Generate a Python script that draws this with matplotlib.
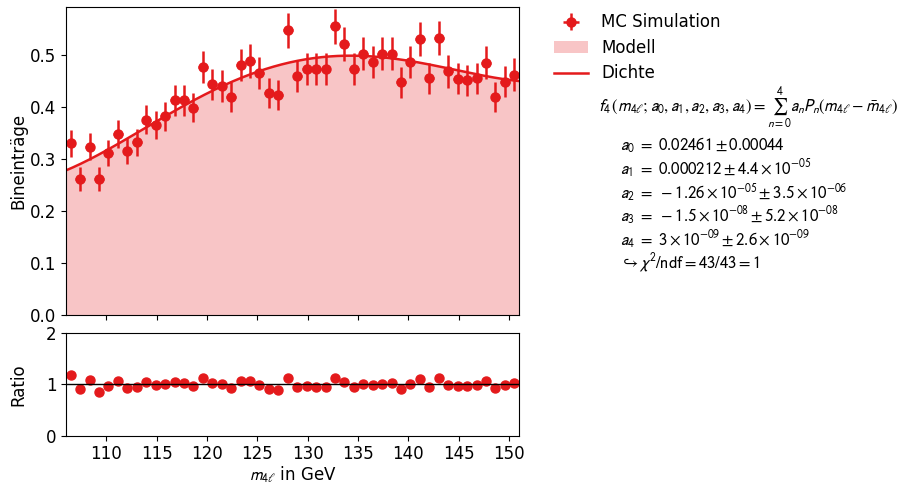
import numpy as np
import matplotlib
matplotlib.use("Agg")
import matplotlib.pyplot as plt
from matplotlib.lines import Line2D
from matplotlib.patches import Patch
from numpy.polynomial import legendre

# ------------------------------------------------------------
# Daten
# ------------------------------------------------------------
m_min, m_max, n_bins = 106.0, 151.0, 48
m_mean = 128.5
norm = 19.8  # Normierung der Dichte auf die Bineinträge

y_mc = [0.331, 0.261, 0.324, 0.262, 0.311, 0.349, 0.315, 0.333,
        0.376, 0.366, 0.383, 0.413, 0.413, 0.399, 0.478, 0.444,
        0.441, 0.420, 0.481, 0.489, 0.466, 0.428, 0.423, 0.548,
        0.460, 0.473, 0.473, 0.474, 0.556, 0.522, 0.474, 0.503,
        0.487, 0.503, 0.503, 0.448, 0.487, 0.531, 0.456, 0.533,
        0.469, 0.455, 0.452, 0.456, 0.486, 0.420, 0.449, 0.463]
y_err = [0.026, 0.023, 0.026, 0.023, 0.025, 0.027, 0.025, 0.026,
         0.028, 0.027, 0.028, 0.029, 0.029, 0.028, 0.031, 0.030,
         0.030, 0.029, 0.031, 0.032, 0.031, 0.029, 0.029, 0.033,
         0.031, 0.031, 0.031, 0.031, 0.034, 0.033, 0.031, 0.032,
         0.031, 0.032, 0.032, 0.030, 0.031, 0.033, 0.030, 0.033,
         0.031, 0.030, 0.030, 0.030, 0.031, 0.029, 0.030, 0.031]

# Fitparameter a_0 ... a_4 (Legendre-Polynome)
a_fit = [0.02461, 0.000212, -1.26e-05, -1.5e-08, 3e-09]

fit_lines = [
    r"$a_0\ =\ 0.02461 \pm 0.00044$",
    r"$a_1\ =\ 0.000212 \pm 4.4\times10^{-05}$",
    r"$a_2\ =\ -1.26\times10^{-05} \pm 3.5\times10^{-06}$",
    r"$a_3\ =\ -1.5\times10^{-08} \pm 5.2\times10^{-08}$",
    r"$a_4\ =\ 3\times10^{-09} \pm 2.6\times10^{-09}$",
    r"$\hookrightarrow \chi^2/\mathrm{ndf} = 43/43 = 1$",
]

# ------------------------------------------------------------
# Modell
# ------------------------------------------------------------
edges = np.linspace(m_min, m_max, n_bins + 1)
centers = 0.5 * (edges[1:] + edges[:-1])
half_w = 0.5 * (edges[1] - edges[0])
y_mc = np.array(y_mc)
y_err = np.array(y_err)

def dichte(m):
    return norm * legendre.legval(m - m_mean, a_fit)

m_fine = np.linspace(m_min, m_max, 400)
ratio = y_mc / dichte(centers)

# ------------------------------------------------------------
# Plot
# ------------------------------------------------------------
plt.rcParams.update({'font.size': 12, 'mathtext.fontset': 'stixsans'})
red = '#e41a1c'

fig = plt.figure(figsize=(9.02, 4.86), dpi=100)
ax1 = fig.add_axes([66/902, 171/486, 453/902, 308/486])
ax2 = fig.add_axes([66/902, 50.5/486, 453/902, 102.5/486], sharex=ax1)

ax1.fill_between(m_fine, 0, dichte(m_fine), color=red, alpha=0.25, lw=0)
ax1.plot(m_fine, dichte(m_fine), color=red, lw=1.8)
eb = ax1.errorbar(centers, y_mc, yerr=y_err, xerr=half_w, fmt='o', color=red,
                  ms=6.5, elinewidth=1.8, capsize=0)
ax1.set_xlim(m_min, m_max)
ax1.set_ylim(0, 0.593)
ax1.set_ylabel('Bineinträge')
ax1.yaxis.set_label_coords(-0.086, 0.5)
ax1.tick_params(labelbottom=False)

handles = [
    eb,
    Patch(facecolor=red, alpha=0.25, lw=0),
    Line2D([], [], color=red, lw=1.8),
]
ax1.legend(handles, ['MC Simulation', 'Modell', 'Dichte'],
           loc='upper left', bbox_to_anchor=(1.045, 1.028), frameon=False,
           labelspacing=0.45)

fig.text(598/902, 1 - 108/486, r"$f_4\,(m_{4\ell};a_0,a_1,a_2,a_3,a_4) = \sum_{n=0}^{4} a_n P_n(m_{4\ell} - \bar{m}_{4\ell})$",
         fontsize=12, va='center')
for i, s in enumerate(fit_lines):
    fig.text(620/902, 1 - (145 + 23.6 * i)/486, s, fontsize=12, va='center')

ax2.plot(centers, ratio, 'o', color=red, ms=6.5)
ax2.axhline(1, color='k', lw=1)
ax2.set_ylim(0, 2)
ax2.set_yticks([0, 1, 2])
ax2.set_ylabel('Ratio')
ax2.yaxis.set_label_coords(-0.086, 0.5)
ax2.set_xlabel(r'$m_{4\ell}$ in GeV', labelpad=1)

fig.savefig('out.png', dpi=100)
